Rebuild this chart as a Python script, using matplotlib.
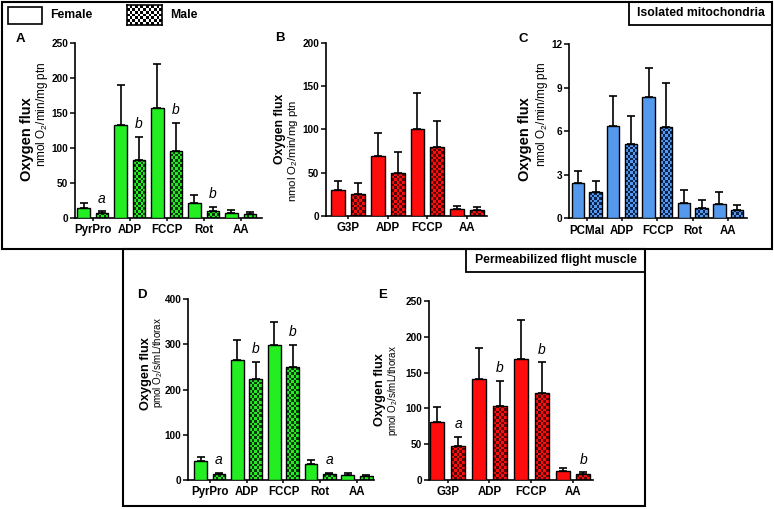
import numpy as np
import matplotlib
matplotlib.use('Agg')
import matplotlib.pyplot as plt
from matplotlib.patches import Rectangle
from matplotlib.colors import ListedColormap

plt.rcParams['font.family'] = ['Liberation Sans', 'DejaVu Sans']
plt.rcParams['mathtext.default'] = 'regular'

W, H = 774, 509

# ---------------- data ----------------
cat_A = ['PyrPro', 'ADP', 'FCCP', 'Rot', 'AA']
A_female = [15, 133, 157, 22, 7.6]
A_female_err = [7, 58, 64, 11.5, 3.4]
A_male = [7.6, 83.6, 95.6, 10, 5.7]
A_male_err = [1.9, 32.4, 40.4, 5.8, 2.3]
A_letters = ['a', 'b', 'b', 'b', '']

cat_B = ['G3P', 'ADP', 'FCCP', 'AA']
B_female = [30, 68.8, 100.4, 7.7]
B_female_err = [10.4, 27.2, 41.6, 3.8]
B_male = [25.4, 49.2, 80, 6.5]
B_male_err = [13.1, 24.6, 29.6, 3.9]
B_letters = ['', '', '', '']

cat_C = ['PCMal', 'ADP', 'FCCP', 'Rot', 'AA']
C_female = [2.46, 6.39, 8.37, 1.03, 0.97]
C_female_err = [0.78, 2.07, 2.0, 0.95, 0.85]
C_male = [1.79, 5.1, 6.32, 0.69, 0.57]
C_male_err = [0.78, 1.93, 3.04, 0.57, 0.35]
C_letters = ['', '', '', '', '']

cat_D = ['PyrPro', 'ADP', 'FCCP', 'Rot', 'AA']
D_female = [42, 265.7, 299.6, 34.7, 10.3]
D_female_err = [9.7, 44.3, 51, 9.6, 5.9]
D_male = [12.5, 222.9, 249.4, 13.3, 8.1]
D_male_err = [3.5, 39.1, 50.2, 2.9, 2.2]
D_letters = ['a', 'b', 'b', 'a', '']

cat_E = ['G3P', 'ADP', 'FCCP', 'AA']
E_female = [81.5, 141, 169.5, 12.1]
E_female_err = [20, 43, 54, 4.2]
E_male = [48, 103.4, 122, 7.9]
E_male_err = [12.5, 34.9, 42.3, 2.8]
E_letters = ['a', 'b', 'b', 'b']

yticks_A = [0, 50, 100, 150, 200, 250]
yticks_B = [0, 50, 100, 150, 200]
yticks_C = [0, 3, 6, 9, 12]
yticks_D = [0, 100, 200, 300, 400]
yticks_E = [0, 50, 100, 150, 200, 250]

GREEN, GREEN_D = '#22EE22', '#0A3A0A'
RED, RED_D = '#FF0D0D', '#5A0505'
BLUE, BLUE_D = '#5599EE', '#0B2550'

fig = plt.figure(figsize=(W / 100, H / 100), dpi=100)


def fx(x):
    return x / W


def fy(y):
    return 1 - y / H


def rect_px(x0, y_top, x1, y_bot):
    return [x0 / W, 1 - y_bot / H, (x1 - x0) / W, (y_bot - y_top) / H]


def checker(ax, bars, c_light, c_dark, cell=2.7):
    cmap = ListedColormap([c_light, c_dark])
    for b in bars:
        x0, y0 = b.get_x(), b.get_y()
        w, h = b.get_width(), b.get_height()
        p0 = ax.transData.transform((x0, y0))
        p1 = ax.transData.transform((x0 + w, y0 + h))
        nx = max(1, int(round((p1[0] - p0[0]) / cell)))
        ny = max(1, int(round((p1[1] - p0[1]) / cell)))
        arr = np.add.outer(np.arange(ny), np.arange(nx)) % 2
        im = ax.imshow(arr, extent=(x0, x0 + w, y0, y0 + h), origin='lower',
                       cmap=cmap, vmin=0, vmax=1, interpolation='nearest',
                       aspect='auto', zorder=2)
        im.set_clip_path(b)


def panel(rect, cats, fem, fem_err, mal, mal_err, letters, col, dark,
          yticks, xlim, width=0.7):
    ax = fig.add_axes(rect)
    n = len(cats)
    xf = np.arange(n) * 2
    xm = xf + 1
    ax.set_xlim(*xlim)
    ax.set_ylim(yticks[0], yticks[-1])
    ax.bar(xf, fem, width=width, color=col, edgecolor='black', linewidth=1.0, zorder=3)
    mbars = ax.bar(xm, mal, width=width, color=col, edgecolor='none', linewidth=0, zorder=1)
    checker(ax, mbars, col, dark)
    ax.bar(xm, mal, width=width, facecolor='none', edgecolor='black', linewidth=1.0, zorder=3)
    ax.errorbar(xf, fem, yerr=[np.zeros(n), fem_err], fmt='none', ecolor='black',
                elinewidth=1.2, capsize=3.2, capthick=1.2, zorder=2.5)
    ax.errorbar(xm, mal, yerr=[np.zeros(n), mal_err], fmt='none', ecolor='black',
                elinewidth=1.2, capsize=3.2, capthick=1.2, zorder=2.5)
    for x, v, e, t in zip(xm, mal, mal_err, letters):
        if t:
            ax.annotate(t, (x, v + e), xytext=(0, 4), textcoords='offset points',
                        ha='center', va='bottom', fontsize=10, fontstyle='italic')
    ax.set_xlim(*xlim)
    ax.set_ylim(yticks[0], yticks[-1])
    ax.set_yticks(yticks)
    ax.set_yticklabels([str(t) for t in yticks], fontsize=7.2, fontweight='bold')
    ax.set_xticks(xf + 0.5)
    ax.set_xticklabels(cats, fontsize=8.3, fontweight='bold')
    ax.tick_params(axis='y', length=3.5, width=1.1, pad=1.5)
    ax.tick_params(axis='x', length=2.5, width=1.1, pad=2)
    for s in ['top', 'right']:
        ax.spines[s].set_visible(False)
    for s in ['left', 'bottom']:
        ax.spines[s].set_linewidth(1.2)
    ax.patch.set_alpha(0)
    return ax


# ---------------- frames ----------------
fig.patches.append(Rectangle((fx(2), fy(249)), (772 - 2) / W, (249 - 2) / H,
                             transform=fig.transFigure, fill=False, lw=1.5, ec='black'))
fig.patches.append(Rectangle((fx(123), fy(506)), (645 - 123) / W, (506 - 249) / H,
                             transform=fig.transFigure, fill=False, lw=1.5, ec='black'))
fig.patches.append(Rectangle((fx(629), fy(25)), (772 - 629) / W, (25 - 2) / H,
                             transform=fig.transFigure, fill=False, lw=1.3, ec='black'))
fig.text(fx(700.5), fy(13.5), 'Isolated mitochondria', ha='center', va='center',
         fontsize=8.8, fontweight='bold')
fig.patches.append(Rectangle((fx(466), fy(272)), (645 - 466) / W, (272 - 249) / H,
                             transform=fig.transFigure, fill=False, lw=1.3, ec='black'))
fig.text(fx(555.5), fy(260.5), 'Permeabilized flight muscle', ha='center', va='center',
         fontsize=8.8, fontweight='bold')

# ---------------- legend ----------------
fig.patches.append(Rectangle((fx(8), fy(24)), (42 - 8) / W, (24 - 7) / H,
                             transform=fig.transFigure, fill=True, fc='white', lw=1.2, ec='black'))
fig.text(fx(50), fy(15), 'Female', ha='left', va='center', fontsize=8.8, fontweight='bold')
lax = fig.add_axes(rect_px(127, 5, 162, 25))
lax.imshow(np.add.outer(np.arange(7), np.arange(13)) % 2, cmap=ListedColormap(['white', 'black']),
           interpolation='nearest', aspect='auto')
lax.set_xticks([])
lax.set_yticks([])
for s in lax.spines.values():
    s.set_linewidth(1.2)
fig.text(fx(170), fy(15), 'Male', ha='left', va='center', fontsize=8.8, fontweight='bold')

# ---------------- panels ----------------
panel(rect_px(75, 43.3, 262, 218), cat_A, A_female, A_female_err, A_male, A_male_err,
      A_letters, GREEN, GREEN_D, yticks_A, (-0.46, 9.65))
panel(rect_px(326, 42.7, 487, 216), cat_B, B_female, B_female_err, B_male, B_male_err,
      B_letters, RED, RED_D, yticks_B, (-0.62, 7.51))
panel(rect_px(569, 44.3, 747.3, 218.3), cat_C, C_female, C_female_err, C_male, C_male_err,
      C_letters, BLUE, BLUE_D, yticks_C, (-0.5, 9.58))
panel(rect_px(188.3, 299.3, 374, 480), cat_D, D_female, D_female_err, D_male, D_male_err,
      D_letters, GREEN, GREEN_D, yticks_D, (-0.67, 9.42))
panel(rect_px(429.3, 301, 593.3, 480), cat_E, E_female, E_female_err, E_male, E_male_err,
      E_letters, RED, RED_D, yticks_E, (-0.38, 7.47), width=0.67)

# ---------------- panel letters & y labels ----------------
for t, x, y in [('A', 20, 39), ('B', 280, 38), ('C', 523, 39), ('D', 142, 295), ('E', 383, 295)]:
    fig.text(fx(x), fy(y), t, ha='center', va='center', fontsize=9.5, fontweight='bold')

sub_iso = 'nmol O$_2$/min/mg ptn'
sub_perm = 'pmol O$_2$/s/mL/thorax'
for x, y, fs in [(27, 139.5, 10.5), (280, 129, 8.8), (525, 139.5, 10.5)]:
    fig.text(fx(x), fy(y), 'Oxygen flux', rotation=90, ha='center', va='center',
             fontsize=fs, fontweight='bold')
for x, y, fs in [(42.5, 114, 8.5), (293.5, 151, 8.2), (542, 114, 8.5)]:
    fig.text(fx(x), fy(y), sub_iso, rotation=90, ha='center', va='center', fontsize=fs)
for x, y in [(145.5, 374), (380.5, 390)]:
    fig.text(fx(x), fy(y), 'Oxygen flux', rotation=90, ha='center', va='center',
             fontsize=9.2, fontweight='bold')
for x, y in [(158, 362.5), (393, 390)]:
    fig.text(fx(x), fy(y), sub_perm, rotation=90, ha='center', va='center', fontsize=7)

fig.savefig('out.png', dpi=100)
